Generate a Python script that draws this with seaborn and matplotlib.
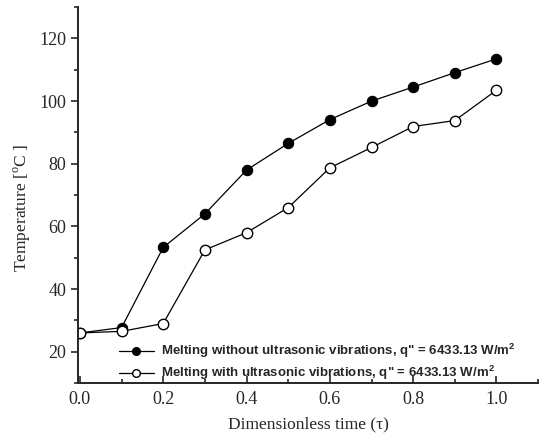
import matplotlib
matplotlib.use("Agg")
import matplotlib.pyplot as plt
from matplotlib.lines import Line2D
from matplotlib.ticker import MultipleLocator
import pandas as pd
import seaborn as sns

# ------------------- data -------------------
tau = [0.0, 0.1, 0.2, 0.3, 0.4, 0.5, 0.6, 0.7, 0.8, 0.9, 1.0]
temp_without = [26, 27.7, 53.3, 64, 78, 86.5, 94.1, 100, 104.5, 109.1, 113.5]
temp_with = [26, 26.5, 29, 52.5, 58, 66, 78.7, 85.2, 91.9, 93.8, 103.5]
labels = ['Melting without ultrasonic vibrations, q" = 6433.13 W/m$^\\mathbf{2}$',
          'Melting with ultrasonic vibrations, q" = 6433.13 W/m$^\\mathbf{2}$']

df = pd.DataFrame({
    "tau": tau * 2,
    "temp": temp_without + temp_with,
    "case": [labels[0]] * len(tau) + [labels[1]] * len(tau),
})

# ------------------- plot -------------------
sns.set_style("ticks")
plt.rcParams['font.family'] = ['Liberation Serif', 'DejaVu Serif']
plt.rcParams['mathtext.fontset'] = 'custom'
plt.rcParams['mathtext.rm'] = 'Liberation Serif'
plt.rcParams['mathtext.bf'] = 'Liberation Sans:bold'

fig = plt.figure(figsize=(5.48, 4.48), dpi=100)
ax = fig.add_axes([0.142, 0.145, 0.84, 0.839])

sns.lineplot(data=df[df.case == labels[0]], x="tau", y="temp", ax=ax,
             color="black", lw=0.9, marker="o", markersize=7.5,
             markerfacecolor="black", markeredgecolor="black", legend=False)
sns.lineplot(data=df[df.case == labels[1]], x="tau", y="temp", ax=ax,
             color="black", lw=0.9, marker="o", markersize=7.5,
             markerfacecolor="white", markeredgecolor="black", markeredgewidth=1,
             legend=False)

ax.set_xlim(-0.005, 1.1)
ax.set_ylim(10, 130)
ax.xaxis.set_major_locator(MultipleLocator(0.2))
ax.xaxis.set_minor_locator(MultipleLocator(0.1))
ax.yaxis.set_major_locator(MultipleLocator(20))
ax.yaxis.set_minor_locator(MultipleLocator(10))
ax.set_xticks([0.0, 0.2, 0.4, 0.6, 0.8, 1.0])
ax.set_xticklabels(["0.0", "0.2", "0.4", "0.6", "0.8", "1.0"])
ax.set_yticks([20, 40, 60, 80, 100, 120])

sns.despine(ax=ax)
for s in ["left", "bottom"]:
    ax.spines[s].set_linewidth(1.4)
ax.tick_params(axis="x", which="both", direction="in", width=1.2, labelsize=13, pad=6)
ax.tick_params(axis="x", which="major", length=5)
ax.tick_params(axis="x", which="minor", length=3)
ax.tick_params(axis="y", which="both", direction="out", width=1.2, labelsize=13)
ax.tick_params(axis="y", which="major", length=5)
ax.tick_params(axis="y", which="minor", length=3)

ax.set_xlabel("Dimensionless time (τ)", fontsize=12.5, labelpad=6)
ax.set_ylabel("Temperature [$^{\\rm o}$C ]", fontsize=12.5)
ax.yaxis.set_label_coords(-0.098, 0.465)

handles = [
    Line2D([], [], color="black", lw=0.9, marker="o", markersize=5.5,
           markerfacecolor="black", markeredgecolor="black"),
    Line2D([], [], color="black", lw=0.9, marker="o", markersize=5.5,
           markerfacecolor="white", markeredgecolor="black"),
]
ax.legend(handles, labels, loc="lower left", bbox_to_anchor=(0.09, 0.002),
          frameon=False, borderpad=0, borderaxespad=0,
          prop={"family": "Liberation Sans", "size": 9.5, "weight": "bold"},
          handlelength=2.6, handletextpad=0.55, labelspacing=0.3)

fig.savefig("out.png", dpi=100)
